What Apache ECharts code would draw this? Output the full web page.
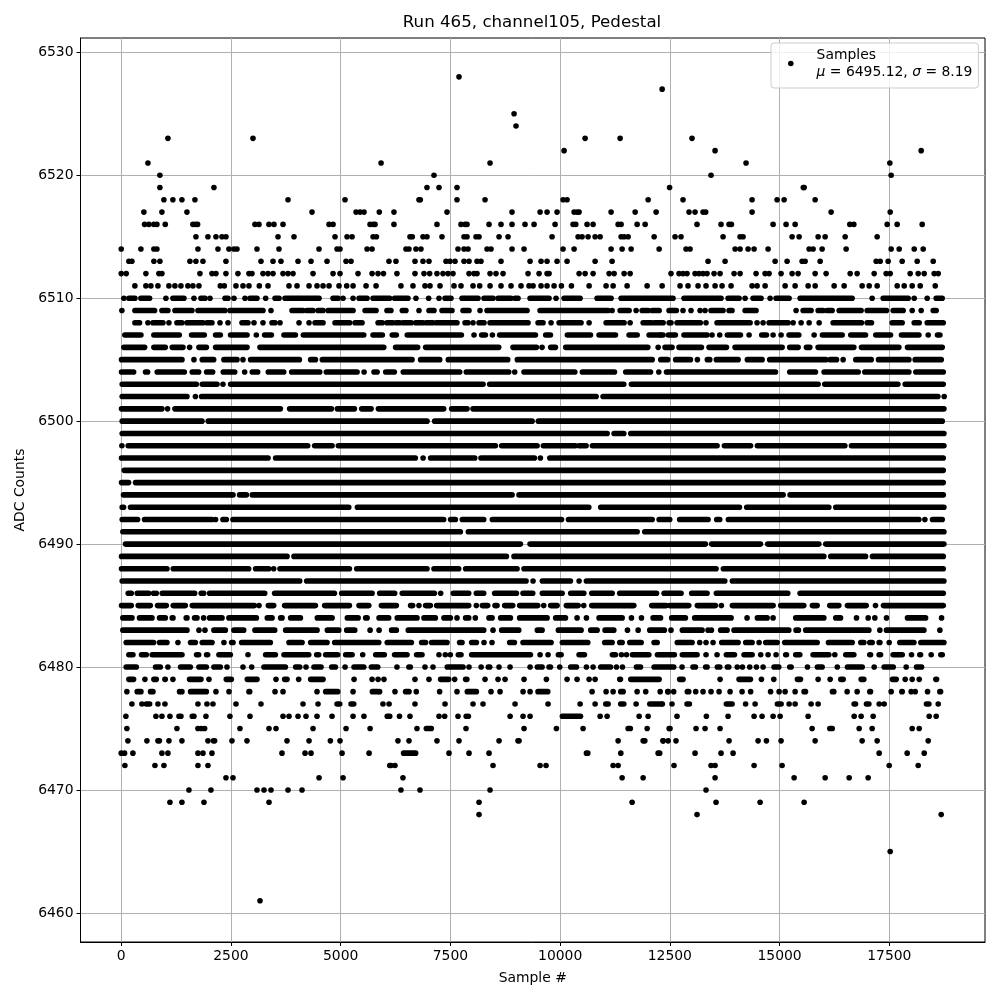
<!DOCTYPE html>
<html><head><meta charset="utf-8">
<style>html,body{margin:0;padding:0;background:#fff}#c{width:1000px;height:1000px}</style>
<script src="https://cdn.jsdelivr.net/npm/echarts@6/dist/echarts.min.js"></script>
</head><body><div id="c"></div>
<script>
// A number is one visible sample; a [start,end] pair is a run where the dots merge and
// single samples cannot be told apart.
const xTicks=[0,2500,5000,7500,10000,12500,15000,17500];
const yTicks=[6460,6470,6480,6490,6500,6510,6520,6530];
const row6528=[7696], row6527=[12324], row6525=[8950], row6524=[8995];
const row6523=[1064,3002,10569,11367,13005];
const row6522=[10090,13530,18226];
const row6521=[608,5920,8403,14236,17512];
const row6520=[881,7126,13438,17542];
const row6519=[881,2112,6966,7240,7650,12494,15540,15560];
const row6518=[972,1177,1383,1679,3800,5099,6784,6814,7650,8289,10067,10158,12005,12800,14373,14943,15103,15810];
const row6517=[516,927,1497,4347,5350,5441,5532,5880,6214,7422,8904,9543,9702,9930,10318,10386,10432,11161,11709,12187,12937,13074,13256,13317,14373,16174,17520];
const row6516=[532,630,744,813,1003,1633,1694,1740,3047,3138,3366,3480,3686,4735,4826,5669,5738,5783,6214,7194,7741,7833,7878,8380,8653,8904,9200,9406,9885,10295,10356,10614,10751,11321,11389,11754,11937,13119,13666,13849,13902,14852,15148,15354,16600,16691,17451,17679,18249];
const row6515=[1702,1975,2158,2295,2386,3572,3936,4871,5145,5259,5738,5814,6579,6632,6875,6966,7308,7810,7878,8083,8152,8608,8813,9816,10409,10500,10637,10797,10911,11389,11458,11549,12142,12618,12754,13712,14100,14168,15285,15445,15878,16038,16494,17223];
const row6514=[0,448,744,813,1748,2204,2454,2568,2637,3093,3594,4506,4917,4985,5601,5715,6487,6556,6715,6829,7673,7810,7901,8334,8425,8904,9178,10067,10318,11161,11412,11617,12256,12868,12960,13986,14100,14282,14419,14738,15673,15764,15969,16516,17542,17725,18067,18272];
const row6513=[174,243,744,881,1565,1702,1862,2386,3184,3458,3640,4028,4324,4689,5122,5236,6100,6259,6693,6875,7012,7399,7490,7605,7810,7924,8106,8197,8653,9315,9565,9702,9930,10158,10797,11184,13370,13758,14898,15171,15513,15582,15924,17200,17292,17474,17793,18135,18500];
const row6512=[0,114,562,858,927,1793,2067,2158,2386,2659,2910,2979,3230,3344,3458,3686,3800,3914,4370,4826,4985,5395,5715,5851,5975,6282,6693,6898,7027,7194,7331,7445,7559,7924,8038,8106,8403,8539,8699,9269,9520,9702,9748,10432,10569,10751,11116,11230,11458,11595,12526,12709,12800,12891,13074,13165,13256,13347,13507,13644,13963,14100,14464,14670,14761,15034,15285,15422,15810,16060,16608,16767,17155,17428,17520,17975,18158,18295,18523,18614];
const row6511=[311,562,676,836,1086,1223,1360,1519,1633,1770,2257,2348,2614,2774,2910,3146,3344,3822,4005,4279,4461,4598,4735,4962,5137,5282,5578,5806,6373,6647,6921,7035,7263,7582,7741,8015,8167,8403,8653,8881,9109,9292,9383,9565,9702,9862,10029,10257,10660,11047,11207,11526,11982,12324,12732,12914,13142,13324,13530,13689,13894,14373,14487,14670,15126,15354,15650,15810,16243,16471,16881,17041,17223,17679,17839,18021,18204,18546];
const row6510=[61,[175,312],[448,646],1018,[1178,1429],1657,[1816,1908],2022,[2364,2432],2569,2820,[2934,3093],3291,[3504,3595],[3731,4507],[4826,4940],5054,5282,[5419,5601],[5738,6115],[6229,6533],6715,7004,7240,[7377,7513],[7764,8129],[8266,8471],[8585,8881],[8973,9041],[9315,9748],9907,[10090,10455],[10842,11161],[11389,12572],[12823,13666],[13826,14077],14214,[14396,14578],14784,[14920,15217],[15468,16653],17109,[17360,17930],18067,18363,[18568,18705]];
const row6509=[15,[312,760],[927,1064],[1224,1611],[1748,2364],[2478,3230],3412,[3891,4142],[4233,4370],[4484,4598],[4712,5282],[5556,5806],[6054,6145],[6404,6487],6784,[7012,7126],[7308,7536],[7787,7924],8175,[8334,9246],[9543,11093],11184,[11367,11572],11731,[11868,12005],[12096,12256],[12481,12648],12800,12982,13188,13302,[13438,13712],[13849,13917],[14214,14464],15376,[15536,15718],[15878,15992],[16083,16197],[16357,16858],[16995,17436],[17588,17816],18021,18226,[18500,18568]];
const row6508=[[312,418],608,[722,950],1087,[1269,1383],[1497,1862],[1953,2067],2250,2432,[2751,2888],3025,3230,[3435,3504],3618,4051,4279,[4416,4598],[4871,5206],[5328,5487],[5852,5948],[6054,6191],[6267,6343],[6419,6609],[6708,6875],[6951,7103],[7179,7650],[7833,7901],8015,[8152,8266],[8403,9269],[9497,9611],9793,[9976,10477],10660,[11047,11458],11595,[11891,12073],[12142,12347],12484,12526,[12663,13195],13324,[13575,14328],14487,14624,[14761,15194],15308,15490,15673,15901,[16220,16866],[16995,17094],[17565,17793],[18067,18181],[18363,18728]];
const row6507=[[83,449],[744,1323],[1603,1893],[2150,2258],[2492,2866],3078,[3267,3421],[3708,3968],[4149,5526],[5737,5950],[6175,6268],[6517,7750],8038,[8212,8297],8456,[8622,9437],[9671,9779],[10165,10691],[10887,11261],[11571,11755],[12027,12287],[12300,12344],[12465,12626],[12822,13348],13461,13636,[13810,14108],14305,[14593,14701],14852,15034,[15216,15438],15787,[15976,16426],[16622,16958],[17192,17528],[17777,18174],18386,[18598,18653]];
const row6506=[[60,533],[744,1004],[1162,1407],1558,[1770,1940],[2150,2866],[3161,5982],[6251,6754],[6935,8601],[8926,9460],9588,[9785,9893],[10127,11998],12233,[12389,12550],[12708,13219],[13392,13789],[13985,15058],[15231,15423],[15611,15689],[15877,16692],[16865,17718],[17914,18706]];
const row6505=[[7,1384],1657,[1846,2106],[2340,2638],2774,[2948,4059],[4316,4424],[4582,6625],[6821,7256],[7452,8806],[9025,12097],[12293,12451],[12632,12968],13127,[13354,13409],[13559,14055],[14266,14602],[14775,16053],[16151,16297],16448,[16736,17087],[17253,17946],[18089,18683]];
const row6504=[[7,282],[554,601],[820,1437],[1618,1764],[1945,2083],[2325,2585],2812,[2986,3109],[3351,3702],[3883,4523],[4673,5374],5533,[5760,5830],[6026,6222],[6426,7712],[7862,8829],8965,[9177,10334],[10507,11238],[11495,12059],12248,12423,[12465,14906],[15231,15818],[16014,16791],[16941,17946],[18104,18729]];
const row6503=[[22,1711],[1846,2182],2318,[2492,8244],[8394,11451],[11624,15879],[16029,17695],[17861,18729]];
const row6502=[[22,1498],1690,[1831,10820],[10978,18607],18751];
const row6501=[[7,928],1056,[1223,3626],[3837,4789],[4924,5313],[5479,5693],[5859,7347],[7528,7879],[8015,18744]];
const row6500=[[22,1840],[1983,6967],[7141,9361],[9504,18706]];
const row6499=[[22,11071],[11229,11451],[11609,18744]];
const row6498=[15,[159,4249],[4407,4804],[4947,8525],[8668,9475],[9618,10348],[10431,10592],[10735,13576],[13742,14338],[14494,16487],[16637,18744]];
const row6497=[[7,3345],[3518,6701],6878,[7049,8054],[8197,9414],9550,[9765,18729]];
const row6496=[[68,18729]];
const row6495=[[7,168],[326,18729]];
const row6494=[[52,2547],[2697,2851],[2986,8905],[9063,15081],[15239,18729]];
const row6493=[[22,54],[212,5184],[5380,10653],[10925,14085],[14251,16122],[16280,18744]];
const row6492=[[22,373],[531,2068],2150,[2317,2395],[2545,7347],[7505,7613],[7771,8259],[8455,10032],[10190,12097],[12255,12497],[12723,13371],[13567,13637],[13833,18174],18310,[18484,18706]];
const row6491=[[37,7727],[7908,11755],[11928,18744]];
const row6490=[[98,9095],[9314,13310],[13453,14564],[14730,15894],[16052,18744]];
const row6489=[[7,3778],[3936,8776],[8949,16008],[16166,16958],[17116,18729]];
const row6488=[[7,1042],[1185,2904],[3062,3360],3473,[3617,5199],[5365,6967],[7125,7689],[7847,9019],[9177,13553],[13719,18729]];
const row6487=[[22,4067],[4225,9224],9383,[9595,10235],10432,[10598,13751],[13924,18744]];
const row6486=[[159,229],[364,624],737,798,[934,1673],[1823,1878],[2013,3269],[3495,4857],[5023,5716],[5889,6230],[6403,7134],7278,[7566,7917],[8090,8259],[8508,9004],[9154,9376],[9595,10045],[10241,10539],[10720,11185],[11358,12196],[12369,12755],[12997,13348],[13559,15187],[15467,18729]];
const row6485=[[7,229],[387,662],[828,1027],[1185,1460],[1618,3033],3139,[3351,3474],[3723,4424],[4635,5199],[5418,5640],[5927,6268],[6593,6640],6784,[6935,7042],[7186,7917],8091,[8227,8350],[8516,8563],[8736,8920],[9078,9490],9626,[9785,9931],[10142,10410],10538,[10720,11679],[12088,12416],[12495,12930],[13126,13538],13674,[13924,14853],[15026,15552],[15748,15856],[16143,16350],[16546,16973],17185,[17367,18729]];
const row6484=[[37,244],[417,700],[873,1004],[1162,1179],[1481,1498],[1671,1726],1877,[2013,2296],[2454,3079],[3328,3436],[3632,3664],[3860,4082],[4468,4804],[5152,5397],[5570,5602],[5874,6093],[6289,6739],[6897,7157],[7353,7499],7650,[7847,7917],8068,[8379,8449],[8645,8867],[9078,9703],[9899,10121],10386,10599,[10887,11413],11625,11853,[12118,12287],[12541,12854],[13065,13895],14259,[14494,14716],14852,[15368,16008],[16280,16388],16752,17018,17170,17436,[17914,18326],18690];
const row6483=[[37,1498],1771,1908,[2112,2372],[2568,2790],[3047,3497],[3746,4462],[4696,4956],[5137,5321],5670,5875,[6160,6268],[6540,8259],8471,[8668,9057],[9481,9589],[9960,10478],[10697,10843],[11024,11223],11534,11777,[12042,12375],12526,[12784,13234],13370,13446,[13658,13804],[13962,15210],[15375,15430],[15596,17034],17284,[17435,18288],18652];
const row6482=[[113,738],[873,1042],1292,[1580,1688],[1846,2068],2340,[2515,2547],[2743,3398],[3822,4120],[4316,4690],[4863,5868],[6061,6610],[6844,6934],[7072,7423],[7710,7765],[7984,8092],8266,8448,[8850,8958],[9154,9794],[10051,10630],[11016,11185],[11358,11413],[11586,11846],[12141,12211],[12670,13006],13180,13324,13484,[13681,14055],[14228,14374],14533,[14684,14944],[15117,15856],[16113,16654],[16850,16920],[17055,17110],[17268,17285],17497,[17739,18060],[18218,18744]];
const row6481=[[174,267],[463,571],[706,1384],[1717,1764],[1945,1969],[2226,2486],2888,[3290,3512],[3708,4272],[4453,4500],[4658,4933],[5114,5260],5502,[5798,5994],[6228,6511],[6730,6853],7240,7384,7498,[7680,7742],[7984,9323],9543,9725,[9960,10022],[10431,10554],[11191,11260],11397,11511,[11647,12021],[12217,12603],[12784,13120],13324,13575,[13787,13971],[14190,14374],14570,14738,14920,[15140,15157],[15368,15461],[15763,16122],16258,[16508,16692],[17055,17072],[17268,17300],[17587,17794],18006,[18195,18212],18454,[18674,18706]];
const row6480=[[113,343],[782,890],1064,[1352,1574],[1770,1939],[2112,2258],2409,2774,2972,[3252,3740],[3974,4067],4210,[4392,4553],[4795,4880],5100,[5304,5526],[5699,5845],6282,[6555,6587],6921,7103,[7429,7788],7924,8200,[8364,8396],8608,8859,9315,[9481,9589],[9747,9779],9991,[10241,10372],10599,10751,[10925,11147],11283,11420,[11738,11831],[12141,12588],12778,[13027,13082],[13316,13348],[13582,13637],[13810,13842],14035,14153,14320,14472,14624,[14874,14982],[15231,15263],15635,[15862,15970],16315,[16546,16882],17155,[17382,17589],17884,[18119,18235]];
const row6479=[[174,282],540,[744,799],[995,1004],1178,[1557,1817],1999,[2393,2509],[2872,3094],3526,[3723,3778],4043,[4316,4599],5305,5715,5852,5986,6693,7012,[7277,7461],7597,[7847,7875],8289,8585,8745,9178,9687,10158,10386,10660,10797,[11358,11375],[11609,12256],[12723,12801],13644,[14076,14336],14586,14868,[15406,15476],15878,16152,[16394,16449],[16858,16920],[17572,17657],17862,18021,18181,[18560,18577]];
const row6478=[129,[364,449],[668,723],1329,1383,[1580,1939],2158,2455,[2910,2927],3504,3686,4461,[4658,4933],5282,[5722,5845],5887,6237,[6479,6557],6723,7254,7650,[7885,8092],8425,8631,9155,9315,[9496,9718],10728,11047,11207,[11381,11436],11754,11950,12279,12453,12458,12587,[12898,12930],13089,13256,13438,13621,13872,14145,14340,14795,14989,15126,15354,[15558,15590],[16204,16236],16539,16767,[17055,17072],17542,[17785,17794],17998,18090,18371,[18651,18668]];
const row6477=[243,471,[570,647],836,996,1748,1953,2090,2614,3184,4142,4484,[4917,4979],[5236,5298],5963,6103,6693,7377,8015,8243,8973,9725,10455,10797,[11040,11094],[11381,11451],11731,[12043,12307],12329,12549,[12891,12945],[13787,13918],14225,14442,[14950,15035],15217,15354,15718,15878,[16698,16730],[16979,17034],17269,17383,[18347,18402],18614];
const row6476=[106,790,927,1110,[1315,1361],[1618,1657],1930,2477,2934,3686,3823,4028,4210,4461,4803,5282,5530,[6061,6118],6340,6579,7240,7369,7673,7860,7909,8860,9155,9315,[10051,10463],10911,11070,11800,12005,12663,13332,13826,14419,14601,14852,15012,15650,16699,16858,17132,18409,18568];
const row6475=[129,1269,1748,1823,1900,2705,3367,3526,4370,5122,5670,6738,[6951,7065],7855,9178,9915,10523,[11549,11600],11983,12484,12504,13096,13302,13644,15741,[16144,16200],16813,17109,18021,18181];
const row6474=[152,585,[836,870],1087,1383,1976,[2100,2128],2523,2865,3777,4279,4765,4985,6305,6556,7194,7696,8608,[9040,9064],11321,[11891,11930],12347,12461,12344,12640,13849,14510,14700,15034,15810,16881,17223,18386];
const row6473=[0,76,266,927,1064,1748,1862,2067,3663,4188,4324,5031,5647,[6434,6708],7468,7924,8380,[10599,10630],11382,12233,12268,13074,13666,13940,17269,17907,18295];
const row6472=[84,768,973,1748,1976,6118,6145,6237,8471,9543,9679,11207,11321,12595,13438,13530,14419,15057,17497,18158];
const row6471=[2386,2546,4507,5054,6419,11412,11891,13530,15331,16038,16585,17018];
const row6470=[1543,2044,3093,3253,3412,3800,4119,6373,6807,8403,13324];
const row6469=[1110,1383,1885,3367,8152,11640,13552,14556,15559];
const row6468=[8152,13119,18682];
const row6465=[17520];
const row6461=[3162];

const levels=[[6528,row6528],[6527,row6527],[6525,row6525],[6524,row6524],[6523,row6523],[6522,row6522],[6521,row6521],[6520,row6520],[6519,row6519],[6518,row6518],[6517,row6517],[6516,row6516],[6515,row6515],[6514,row6514],[6513,row6513],[6512,row6512],[6511,row6511],[6510,row6510],[6509,row6509],[6508,row6508],[6507,row6507],[6506,row6506],[6505,row6505],[6504,row6504],[6503,row6503],[6502,row6502],[6501,row6501],[6500,row6500],[6499,row6499],[6498,row6498],[6497,row6497],[6496,row6496],[6495,row6495],[6494,row6494],[6493,row6493],[6492,row6492],[6491,row6491],[6490,row6490],[6489,row6489],[6488,row6488],[6487,row6487],[6486,row6486],[6485,row6485],[6484,row6484],[6483,row6483],[6482,row6482],[6481,row6481],[6480,row6480],[6479,row6479],[6478,row6478],[6477,row6477],[6476,row6476],[6475,row6475],[6474,row6474],[6473,row6473],[6472,row6472],[6471,row6471],[6470,row6470],[6469,row6469],[6468,row6468],[6465,row6465],[6461,row6461]];

const dots=[],runs=[];
levels.forEach(([lv,items])=>items.forEach(it=>{
  if(Array.isArray(it)) runs.push([it[0],it[1],lv]); else dots.push([it,lv]);
}));

const FONT='"DejaVu Sans"';
const MARK=5.6;
const plain=v=>String(v);
const chart=echarts.init(document.getElementById('c'),null,{renderer:'canvas'});
const axisCommon={
  axisLine:{show:true,onZero:false,lineStyle:{color:'#000',width:1}},
  nameTextStyle:{fontFamily:FONT,fontSize:13.9,color:'#000'},
  nameLocation:'middle'
};
chart.setOption({
  animation:false,
  backgroundColor:'#fff',
  title:{text:'Run 465, channel105, Pedestal',left:532,top:14,textAlign:'center',padding:0,
    textStyle:{fontFamily:FONT,fontSize:16.67,fontWeight:'normal',color:'#000'}},
  grid:{left:80.5,top:38,width:904.5,height:904,show:true,borderColor:'#000',borderWidth:1,backgroundColor:'transparent'},
  xAxis:Object.assign({},axisCommon,{type:'value',min:-928,max:19680,name:'Sample #',nameGap:29,
    axisTick:{show:true,length:4,lineStyle:{color:'#000'},customValues:xTicks},
    axisLabel:{customValues:xTicks,formatter:plain,fontFamily:FONT,fontSize:13.9,color:'#000',margin:7},
    splitLine:{show:true,lineStyle:{color:'#b0b0b0',width:1}}}),
  yAxis:Object.assign({},axisCommon,{type:'value',min:6457.64,max:6531.16,name:'ADC Counts',nameGap:52,
    axisTick:{show:true,length:4,lineStyle:{color:'#000'},customValues:yTicks},
    axisLabel:{customValues:yTicks,formatter:plain,fontFamily:FONT,fontSize:13.9,color:'#000',margin:7},
    splitLine:{show:true,lineStyle:{color:'#b0b0b0',width:1}}}),
  legend:{show:true,left:771,top:43,orient:'vertical',data:['Samples'],
    backgroundColor:'rgba(255,255,255,0.8)',borderColor:'#ccc',borderWidth:1,borderRadius:3,
    padding:[5,6,9,17],itemWidth:MARK,itemHeight:MARK,icon:'circle',
    formatter:()=>'{s|}{t|Samples}\n{s|}{i|\u03bc}{t| = 6495.12, }{i|\u03c3}{t| = 8.19}',
    textStyle:{rich:{
      s:{width:18},
      t:{fontFamily:FONT,fontSize:13.9,color:'#000',lineHeight:17},
      i:{fontFamily:FONT,fontSize:13.9,fontStyle:'italic',color:'#000',lineHeight:17}}}},
  series:[
    {type:'custom',name:'runs',data:runs,z:3,silent:true,clip:true,
     encode:{x:[0,1],y:2},
     renderItem:(p,api)=>{
       const a=api.coord([api.value(0),api.value(2)]),b=api.coord([api.value(1),api.value(2)]);
       return {type:'rect',
         shape:{x:a[0]-MARK/2,y:a[1]-MARK/2,width:b[0]-a[0]+MARK,height:MARK,r:MARK/2},
         style:{fill:'#000'}};
     }},
    {type:'scatter',name:'Samples',data:dots,z:3,symbol:'circle',symbolSize:MARK,silent:true,
     itemStyle:{color:'#000',opacity:1}}
  ]
});
</script></body></html>
